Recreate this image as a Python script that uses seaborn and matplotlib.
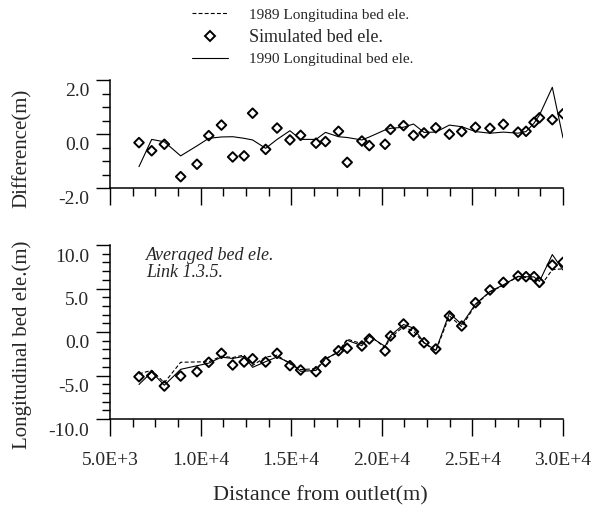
import matplotlib
matplotlib.use("Agg")
import matplotlib.pyplot as plt
import matplotlib.transforms as mtransforms
from matplotlib.lines import Line2D
from matplotlib.ticker import FixedLocator, MultipleLocator
import pandas as pd
import seaborn as sns

# Distance from outlet (m) of each surveyed cross-section
distance = [6600, 7300, 8000, 8900, 9800, 10450, 11150, 11770, 12400, 12870,
            13590, 14220, 14930, 15520, 16370, 16890, 17610, 18090, 18900, 19310,
            20180, 20480, 21200, 21750, 22330, 22980, 23730, 24410, 25170, 25970,
            26710, 27520, 27960, 28400, 28700, 29410, 30000]

# Averaged bed elevation (m)
bed_1989 = [-4.82, -4.40, -5.83, -3.48, -3.44, -3.42, -2.78, -2.94, -2.64, -3.84,
            -2.88, -2.67, -3.65, -4.32, -4.22, -3.13, -2.25, -0.82, -1.35, -0.37,
            -1.80, -0.63, 0.61, 0.08, -1.27, -2.18, 1.85, 0.60, 3.12, 4.62,
            5.35, 6.37, 6.26, 5.93, 5.11, 7.17, 7.26]
bed_1990 = [-6.03, -4.60, -6.12, -4.29, -3.88, -3.58, -2.89, -3.04, -2.80, -4.06,
            -3.41, -2.87, -3.53, -4.52, -4.42, -3.07, -2.35, -0.95, -1.57, -0.48,
            -1.65, -0.42, 0.86, 0.45, -1.21, -2.11, 2.18, 0.87, 3.21, 4.65,
            5.42, 6.40, 6.35, 6.33, 5.81, 8.90, 7.12]
bed_sim = [-5.14, -5.02, -6.21, -5.06, -4.56, -3.48, -2.45, -3.79, -3.45, -3.07,
           -3.45, -2.45, -3.87, -4.37, -4.56, -3.41, -2.15, -1.87, -1.61, -0.80,
           -2.18, -0.46, 0.92, 0.03, -1.23, -1.95, 1.84, 0.69, 3.37, 4.83,
           5.71, 6.44, 6.36, 6.36, 5.71, 7.70, 8.01]

# Elevation change against the 1989 survey (m)
diff_obs = [-1.21, -0.20, -0.29, -0.81, -0.44, -0.16, -0.11, -0.10, -0.16, -0.22,
            -0.53, -0.20, 0.12, -0.20, -0.20, 0.06, -0.10, -0.13, -0.22, -0.11,
            0.15, 0.21, 0.25, 0.37, 0.06, 0.07, 0.33, 0.27, 0.09, 0.03,
            0.07, 0.03, 0.09, 0.40, 0.70, 1.73, -0.14]
diff_sim = [-0.32, -0.62, -0.38, -1.58, -1.12, -0.06, 0.33, -0.85, -0.81, 0.77,
            -0.57, 0.22, -0.22, -0.05, -0.34, -0.28, 0.10, -1.05, -0.26, -0.43,
            -0.38, 0.17, 0.31, -0.05, 0.04, 0.23, -0.01, 0.09, 0.25, 0.21,
            0.36, 0.07, 0.10, 0.43, 0.60, 0.53, 0.75]

x_ticks = [5000, 10000, 15000, 20000, 25000, 30000]
x_tick_labels = ["5.0E+3", "1.0E+4", "1.5E+4", "2.0E+4", "2.5E+4", "3.0E+4"]
diff_ticks = [-2.0, 0.0, 2.0]
diff_tick_labels = ["-2.0", "0.0", "2.0"]
bed_ticks = [-10.0, -5.0, 0.0, 5.0, 10.0]
bed_tick_labels = ["-10.0", "-5.0", "0.0", "5.0", "10.0"]

legend_labels = ["1989 Longitudina bed ele.", "Simulated bed ele.",
                 "1990 Longitudinal bed ele."]

df = pd.DataFrame({"distance": distance, "bed_1989": bed_1989,
                   "bed_1990": bed_1990, "bed_sim": bed_sim,
                   "diff_obs": diff_obs, "diff_sim": diff_sim})

sns.set_style("ticks")
plt.rcParams["font.family"] = ["Liberation Serif", "DejaVu Serif"]
plt.rcParams["axes.unicode_minus"] = False

W, H = 593, 514
fig = plt.figure(figsize=(W / 100, H / 100), dpi=100)


def px_axes(left, top, right, bottom):
    return fig.add_axes([left / W, 1 - bottom / H, (right - left) / W, (bottom - top) / H])


ax_top = px_axes(110, 80, 563, 188)
ax_bot = px_axes(110, 245, 563, 419)

LW = 0.8
DASH = (0, (3.5, 2.0))
mk = dict(marker="D", s=24, facecolor="none", edgecolor="black", linewidth=1.4, zorder=3)

# Upper panel: elevation differences
sns.lineplot(data=df, x="distance", y="diff_obs", ax=ax_top, color="black",
             linewidth=LW, sort=False, estimator=None)
sns.scatterplot(data=df, x="distance", y="diff_sim", ax=ax_top, **mk)

# Lower panel: bed elevations
sns.lineplot(data=df, x="distance", y="bed_1989", ax=ax_bot, color="black",
             linewidth=LW, linestyle=DASH, sort=False, estimator=None)
sns.lineplot(data=df, x="distance", y="bed_1990", ax=ax_bot, color="black",
             linewidth=LW, sort=False, estimator=None)
sns.scatterplot(data=df, x="distance", y="bed_sim", ax=ax_bot, **mk)

TICK_FS = 14
down = mtransforms.ScaledTranslation(0, -0.10, fig.dpi_scale_trans)

for ax, yt, ytl, ylim, yminor in [(ax_top, diff_ticks, diff_tick_labels, (-2, 2), 0.5),
                                   (ax_bot, bed_ticks, bed_tick_labels, (-10, 10), 1.0)]:
    ax.set_xlim(5000, 30000)
    ax.set_ylim(*ylim)
    for side in ("top", "right"):
        ax.spines[side].set_visible(False)
    for side in ("left", "bottom"):
        ax.spines[side].set_linewidth(1.1)
        ax.spines[side].set_color("black")
    ax.set_xticks(x_ticks)
    ax.xaxis.set_minor_locator(MultipleLocator(1250))
    ax.set_yticks(yt)
    ax.set_yticklabels(ytl)
    ax.yaxis.set_minor_locator(MultipleLocator(yminor))
    ax.tick_params(axis="y", which="major", direction="out", length=10, width=1.0,
                   pad=5, labelsize=TICK_FS, color="black")
    ax.tick_params(axis="y", which="minor", direction="out", length=5.5, width=1.0,
                   color="black")
    ax.tick_params(axis="x", which="major", direction="out", length=12.5, width=1.0,
                   pad=11, labelsize=TICK_FS, color="black")
    ax.tick_params(axis="x", which="minor", direction="out", length=6, width=1.0,
                   color="black")
    for lab in ax.get_yticklabels():
        lab.set_transform(lab.get_transform() + down)
    ax.set_xlabel("")

ax_top.set_xticklabels([])
ax_bot.set_xticklabels(x_tick_labels)

ax_top.set_ylabel("Difference(m)", fontsize=15)
ax_top.yaxis.set_label_coords(-0.172, 0.37)
ax_bot.set_ylabel("Longitudinal bed ele.(m)", fontsize=15)
ax_bot.yaxis.set_label_coords(-0.172, 0.425)

fig.text(320 / W, 1 - 496 / H, "Distance from outlet(m)", fontsize=16,
         ha="center", va="center")

ax_bot.text(0.079, 0.99, "Averaged bed ele.\nLink 1.3.5.", transform=ax_bot.transAxes,
            fontsize=13, style="italic", ha="left", va="top", linespacing=1.0)

handles = [
    Line2D([], [], color="black", linewidth=LW, linestyle=DASH),
    Line2D([], [], marker="D", markersize=5, markerfacecolor="none",
           markeredgecolor="black", markeredgewidth=1.4, linestyle="none"),
    Line2D([], [], color="black", linewidth=LW),
]
leg = fig.legend(handles, legend_labels, loc="upper left",
                 bbox_to_anchor=(192 / W, 1 - 8 / H), frameon=False, fontsize=11,
                 handlelength=2.35, handletextpad=1.4, labelspacing=0.45,
                 borderpad=0, borderaxespad=0, numpoints=1)
leg.get_texts()[1].set_fontsize(13)

fig.savefig("out.png", dpi=100)
